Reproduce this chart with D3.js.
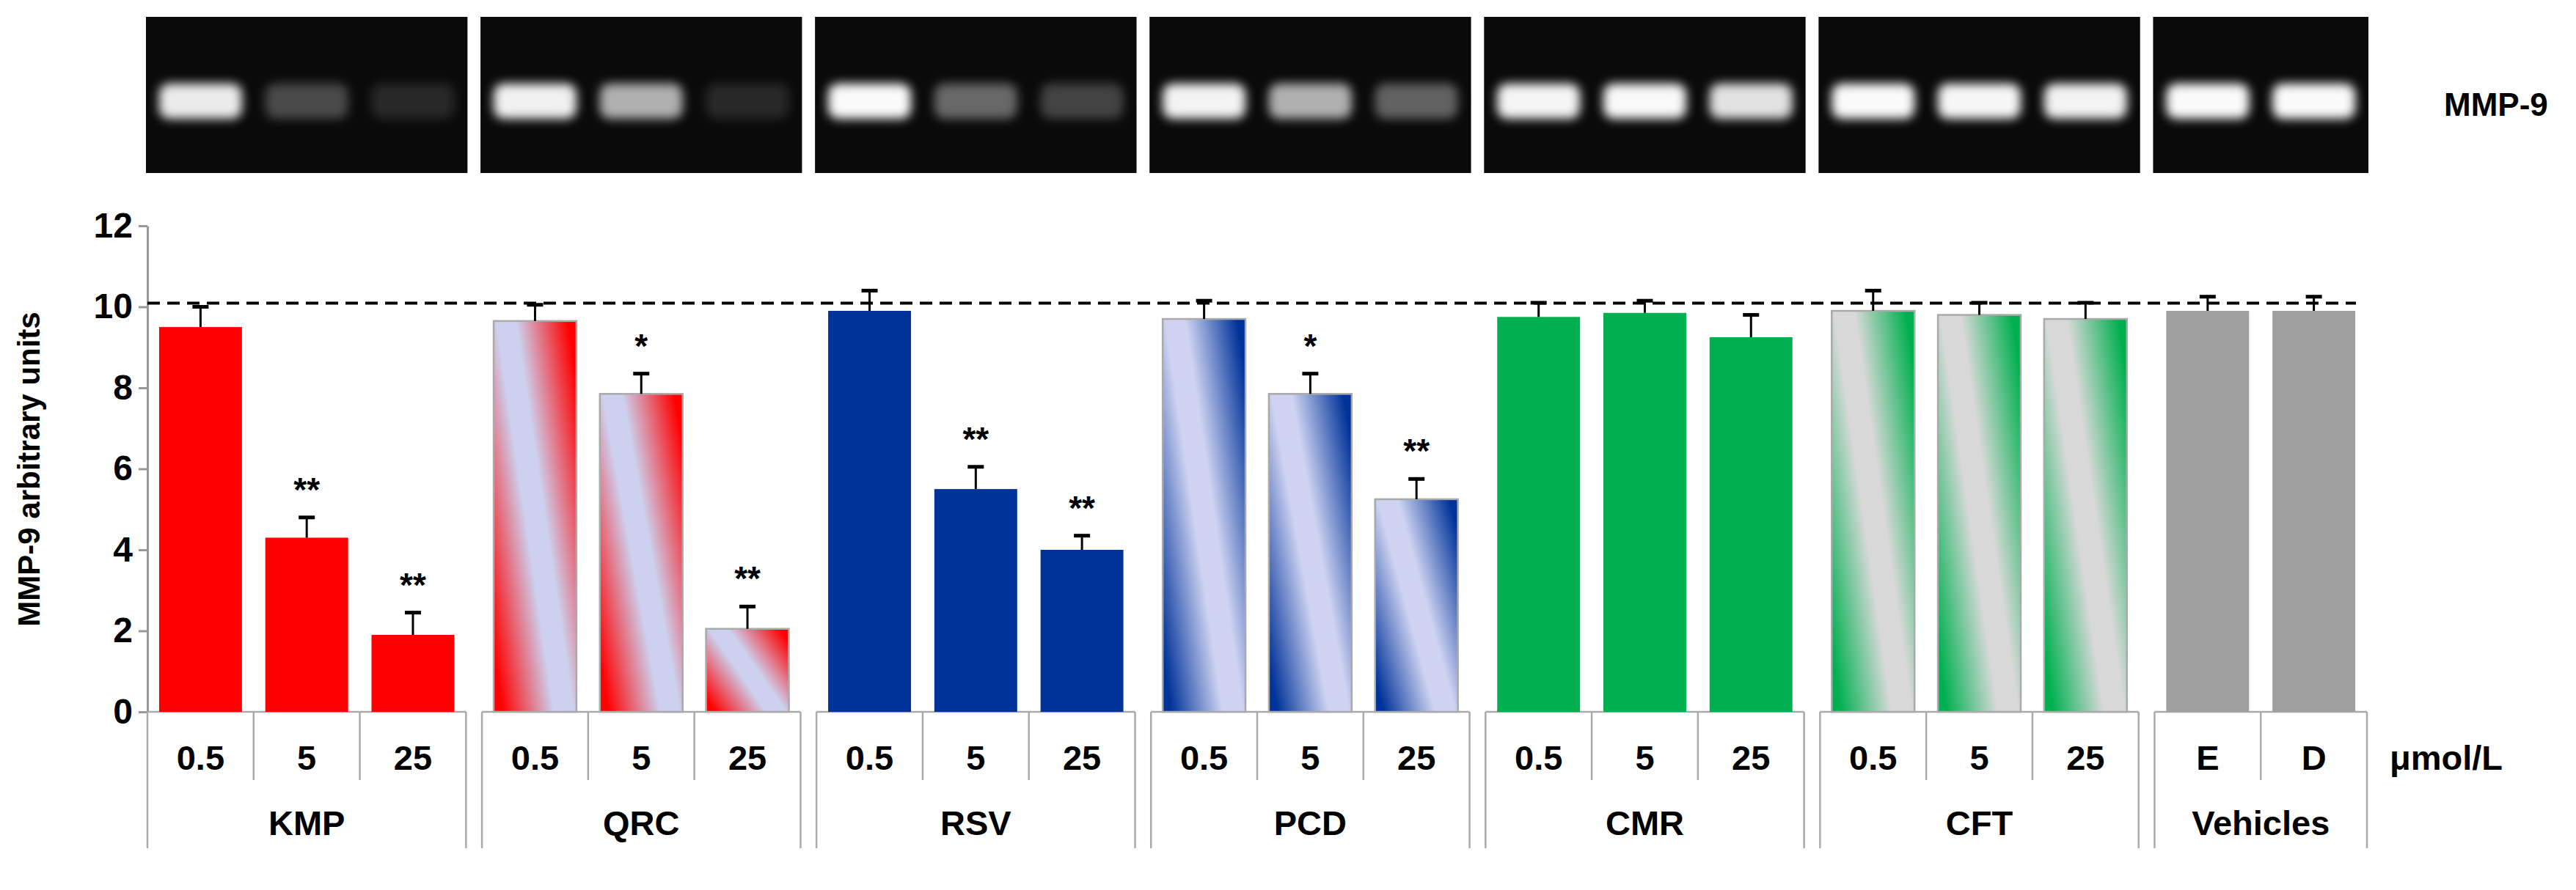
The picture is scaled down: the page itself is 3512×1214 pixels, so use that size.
<!DOCTYPE html>
<html><head><meta charset="utf-8">
<script src="https://cdn.jsdelivr.net/npm/d3@7"></script>
<style>body{margin:0;background:#fff}svg{display:block}text{font-family:"Liberation Sans",Arial,sans-serif;font-weight:bold}</style>
</head><body><svg id="c" width="3512" height="1214"></svg>
<script>
const groups = ["KMP","QRC","RSV","PCD","CMR","CFT","Vehicles"];
const doses = [["0.5","5","25"],["0.5","5","25"],["0.5","5","25"],["0.5","5","25"],["0.5","5","25"],["0.5","5","25"],["E","D"]];
const values = [[9.5,4.3,1.9],[9.65,7.85,2.05],[9.9,5.5,4.0],[9.7,7.85,5.25],[9.75,9.85,9.25],[9.9,9.8,9.7],[9.9,9.9]];
const errors = [[0.5,0.5,0.55],[0.4,0.5,0.55],[0.5,0.55,0.35],[0.45,0.5,0.5],[0.35,0.3,0.55],[0.5,0.3,0.4],[0.35,0.35]];
const stars = [["","**","**"],["","*","**"],["","**","**"],["","*","**"],["","",""],["","",""],["",""]];
const fills = ["#ff0000","grad-red","#003399","grad-blue","#00b050","grad-green","#a0a0a0"];
const yTicks = [0,2,4,6,8,10,12];
const controlLevel = 10.09;
const unitLabel = "μmol/L";

const svg = d3.select("#c");
const defs = svg.append("defs");
[["grad-red","#ff0000","#cdd0ee"],["grad-blue","#003399","#d0d4f2"],["grad-green","#00b050","#d9d9d9"]].forEach(([id,c,l])=>{
  const g = defs.append("linearGradient").attr("id",id).attr("x1",0).attr("y1",0.85).attr("x2",1).attr("y2",0.15);
  g.append("stop").attr("offset",0).attr("stop-color",c);
  g.append("stop").attr("offset",0.42).attr("stop-color",l);
  g.append("stop").attr("offset",0.58).attr("stop-color",l);
  g.append("stop").attr("offset",1).attr("stop-color",c);
});
defs.append("filter").attr("id","blur").attr("x","-50%").attr("y","-50%").attr("width","200%").attr("height","200%")
  .append("feGaussianBlur").attr("stdDeviation",7);

const gapU = 0.15;
let items = [], gInfo = [], slot = 0;
groups.forEach((g,gi)=>{
  const start = slot + gi*gapU;
  doses[gi].forEach((d,di)=>items.push({g:gi,d:di,dose:d,v:values[gi][di],e:errors[gi][di],s:stars[gi][di],pos:start+di}));
  gInfo.push({name:g,start:start,end:start+doses[gi].length});
  slot += doses[gi].length;
});
const totalU = slot + (groups.length-1)*gapU;
const x = d3.scaleLinear().domain([0,totalU]).range([201,3227]);
const y = d3.scaleLinear().domain([0,12]).range([971,308]);
const bw = (x(1)-x(0))*0.78;

// gels
const gel = svg.append("g");
gInfo.forEach((gi,i)=>{
  gel.append("rect").attr("x",x(gi.start)-2).attr("y",23).attr("width",x(gi.end)-x(gi.start)+4).attr("height",213).attr("fill","#0a0a0a");
});
items.forEach(it=>{
  const cx = x(it.pos+0.5);
  gel.append("rect").attr("x",cx-bw*0.5).attr("y",114).attr("width",bw).attr("height",48).attr("rx",14)
    .attr("fill","#fff").attr("opacity",Math.max(0.12,Math.pow(it.v/10,1.6))).attr("filter","url(#blur)");
});
svg.append("text").attr("x",3332).attr("y",158).attr("font-size",44).text("MMP-9");

// y axis
const ya = svg.append("g").attr("transform","translate(201,0)").call(d3.axisLeft(y).tickValues(yTicks).tickSize(12).tickSizeOuter(0));
ya.select(".domain").attr("stroke","#999").attr("stroke-width",3);
ya.selectAll(".tick line").attr("stroke","#999").attr("stroke-width",3);
ya.selectAll(".tick text").attr("font-size",48).attr("font-weight","bold").attr("fill","#000").attr("x",-20)
  .style("font-family","'Liberation Sans',Arial,sans-serif");
svg.append("text").attr("transform","translate(54,640) rotate(-90)").attr("text-anchor","middle").attr("font-size",42).text("MMP-9 arbitrary units");

// category boxes
const cat = svg.append("g").attr("stroke","#aaa").attr("stroke-width",2.5);
gInfo.forEach(gi=>{
  const x0=x(gi.start), x1=x(gi.end);
  cat.append("line").attr("x1",x0).attr("x2",x1).attr("y1",971).attr("y2",971);
  cat.append("line").attr("x1",x0).attr("x2",x0).attr("y1",971).attr("y2",1157);
  cat.append("line").attr("x1",x1).attr("x2",x1).attr("y1",971).attr("y2",1157);
  for(let k=gi.start+1;k<gi.end-0.01;k++) cat.append("line").attr("x1",x(k)).attr("x2",x(k)).attr("y1",971).attr("y2",1064);
  svg.append("text").attr("x",(x0+x1)/2).attr("y",1139).attr("text-anchor","middle").attr("font-size",47).text(gi.name);
});
svg.selectAll(".dose").data(items).join("text").attr("x",d=>x(d.pos+0.5)).attr("y",1050).attr("text-anchor","middle").attr("font-size",47).text(d=>d.dose);
svg.append("text").attr("x",3258).attr("y",1050).attr("font-size",47).text(unitLabel);

// bars
svg.selectAll(".bar").data(items).join("rect")
  .attr("x",d=>x(d.pos+0.5)-bw/2).attr("width",bw).attr("y",d=>y(d.v)).attr("height",d=>y(0)-y(d.v))
  .attr("fill",d=>fills[d.g].startsWith("grad")?`url(#${fills[d.g]})`:fills[d.g])
  .attr("stroke",d=>fills[d.g].startsWith("grad")?"#aaa":"none").attr("stroke-width",2.5);
// error bars
const eb = svg.append("g").attr("stroke","#000").attr("stroke-width",3);
items.forEach(d=>{
  const cx=x(d.pos+0.5);
  eb.append("line").attr("x1",cx).attr("x2",cx).attr("y1",y(d.v)).attr("y2",y(d.v+d.e));
  eb.append("line").attr("x1",cx-11).attr("x2",cx+11).attr("y1",y(d.v+d.e)).attr("y2",y(d.v+d.e)).attr("stroke-width",5);
});
svg.selectAll(".star").data(items.filter(d=>d.s)).join("text").attr("x",d=>x(d.pos+0.5)).attr("y",d=>y(d.v+d.e)-22)
  .attr("text-anchor","middle").attr("font-size",46).text(d=>d.s);
// control line
svg.append("line").attr("x1",201).attr("x2",3212).attr("y1",y(controlLevel)).attr("y2",y(controlLevel))
  .attr("stroke","#000").attr("stroke-width",4).attr("stroke-dasharray","17,10");
</script></body></html>
